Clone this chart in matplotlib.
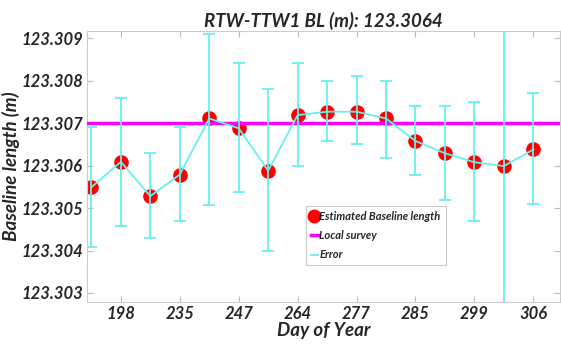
import numpy as np
import matplotlib.pyplot as plt
from matplotlib.lines import Line2D

# data
days = ['198', '235', '247', '264', '277', '285', '299', '306']
baseline = [123.30549, 123.30609, 123.30528, 123.30579, 123.30711, 123.30688, 123.30588, 123.30719,
            123.30727, 123.30727, 123.30711, 123.30658, 123.30629, 123.30608, 123.30599, 123.30638]
err_top = [123.30691, 123.30760, 123.30630, 123.30690, 123.30910, 123.30841, 123.30780, 123.30841,
           123.30800, 123.30810, 123.30800, 123.30740, 123.30740, 123.30750, 123.30960, 123.30770]
err_bot = [123.30409, 123.30458, 123.30429, 123.30469, 123.30508, 123.30539, 123.30399, 123.30599,
           123.30659, 123.30650, 123.30618, 123.30579, 123.30520, 123.30469, 123.30270, 123.30510]
yticks = [123.303, 123.304, 123.305, 123.306, 123.307, 123.308, 123.309]
local_survey = 123.307

FONT = ['Lato', 'DejaVu Sans']
plt.rcParams['font.family'] = FONT
txt = dict(fontweight='bold', fontstyle='italic', color='#262626')

fig = plt.figure(figsize=(5.61, 3.45), dpi=100)
ax = fig.add_axes([0.155, 0.125, 0.843, 0.785])

x = np.arange(len(baseline))
y = np.array(baseline)
yerr = [y - np.array(err_bot), np.array(err_top) - y]
cyan = '#66f0f0'

ax.plot(x, y, 'o', color='red', markersize=9.5, zorder=2)
ax.axhline(local_survey, color='#ff00ff', lw=2.5, zorder=3)
ax.errorbar(x, y, yerr=yerr, color=cyan, lw=1.3, capsize=4, capthick=1.3, zorder=4)

ax.set_xlim(-0.15, 15.9)
ax.set_ylim(123.30279, 123.30917)
ax.set_xticks(x[1::2])
ax.set_xticklabels(days, fontsize=12, **txt)
ax.set_yticks(yticks)
ax.set_yticklabels([f'{v:.3f}' for v in yticks], fontsize=12, **txt)
ax.tick_params(direction='in', top=True, right=True, length=4, color='#bbbbbb', pad=3)
for s in ax.spines.values():
    s.set_color('#cccccc')

ax.set_title('RTW-TTW1 BL (m): 123.3064', fontsize=13.5, pad=3, **txt)
ax.set_xlabel('Day of Year', fontsize=13.5, labelpad=0, **txt)
ax.set_ylabel('Baseline length (m)', fontsize=13.5, labelpad=1, **txt)

handles = [Line2D([], [], ls='none', marker='o', color='red', markersize=9),
           Line2D([], [], color='#ff00ff', lw=2.5),
           Line2D([], [], color=cyan, lw=1.3)]
labels = ['Estimated Baseline length', 'Local survey', 'Error']
leg = ax.legend(handles, labels, loc='upper left', bbox_to_anchor=(0.463, 0.355),
                prop=dict(family=FONT, weight='bold', style='italic', size=8),
                frameon=True, fancybox=False, edgecolor='#bbbbbb', handlelength=0.6,
                handletextpad=0.15, borderpad=0.45, labelspacing=0.75, borderaxespad=0)
leg.get_frame().set_linewidth(0.8)
for t in leg.get_texts():
    t.set_color('#262626')

fig.savefig('out.png', dpi=100)
